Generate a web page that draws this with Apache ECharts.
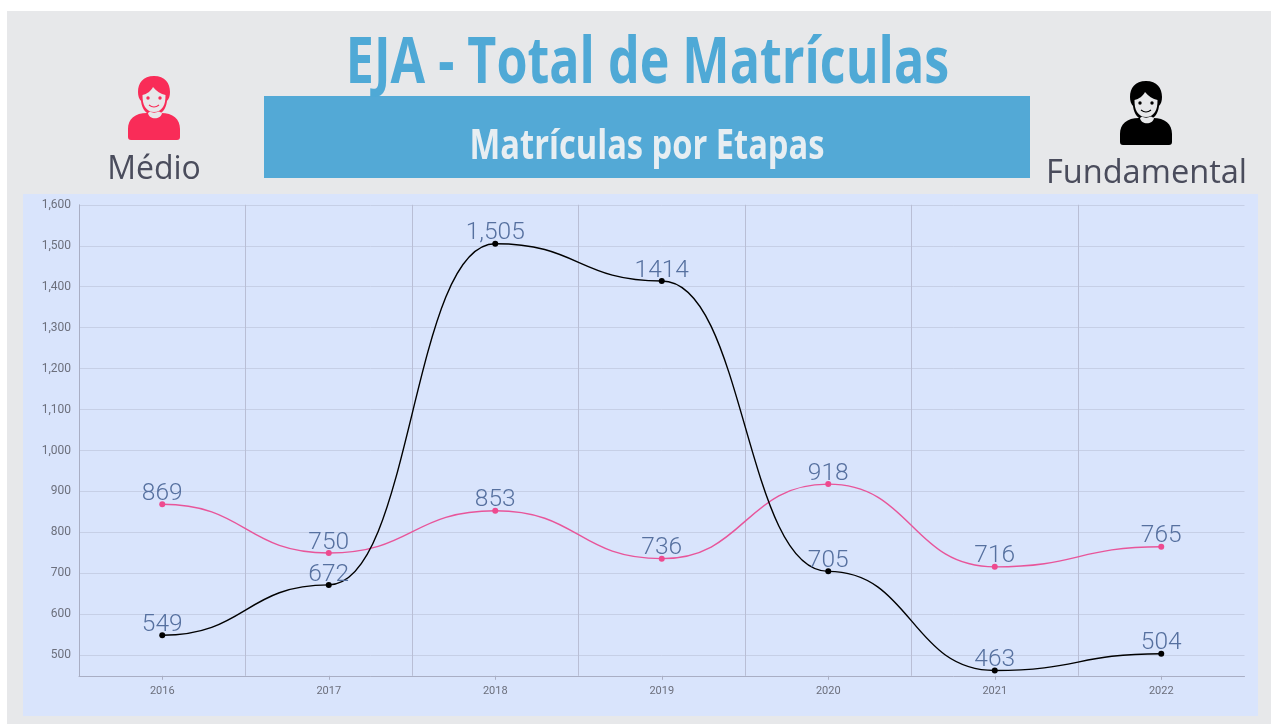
<!DOCTYPE html>
<html><head><meta charset="utf-8">
<style>html,body{margin:0;padding:0;background:#fff}#c{width:1271px;height:724px}</style>
<script src="https://cdn.jsdelivr.net/npm/echarts@6/dist/echarts.min.js"></script>
</head><body><div id="c"></div>
<script>
const years = ['2016','2017','2018','2019','2020','2021','2022'];
const medio = [869,750,853,736,918,716,765];
const fundamental = [549,672,1505,1414,705,463,504];
const medioLabels = ['869','750','853','736','918','716','765'];
const fundamentalLabels = ['549','672','1,505','1414','705','463','504'];
const yTicks = [500,600,700,800,900,1000,1100,1200,1300,1400,1500,1600];
const titleText = 'EJA - Total de Matrículas';
const subtitleText = 'Matrículas por Etapas';

const personPath = 'M26 0C15 0 10 7 10 16C10 20 11 23 13 25C13.5 30 16 35 19 37C7 37 0 43 0 53L0 61C0 63 1 64 3 64L49 64C51 64 52 63 52 61L52 53C52 43 45 37 33 37C36 35 38.5 30 39 25C41 23 42 20 42 16C42 7 37 0 26 0Z';
const facePath = 'M14.5 19C19 18 23 15 25 11C28 15 33 18 37.5 19C37.5 24 37 28 35 31C33 34 30 36 26 36C22 36 19 34 17 31C15 28 14.5 24 14.5 19Z M20 37C21 44 33 44 34 37L31 35.5C28 37 24 37 22 35.5Z';
function person(x,y,color){
  return {type:'group',x:x,y:y,children:[
    {type:'path',shape:{pathData:personPath},style:{fill:color}},
    {type:'path',shape:{pathData:facePath},style:{fill:'#e7e8ea'}},
    {type:'circle',shape:{cx:20,cy:22,r:1.7},style:{fill:color}},
    {type:'circle',shape:{cx:32,cy:22,r:1.7},style:{fill:color}},
    {type:'path',shape:{pathData:'M21 29Q26 33 31 29'},style:{fill:'none',stroke:color,lineWidth:1.2}}
  ]};
}
const lab = (arr)=>({show:true,position:'top',distance:-5,fontFamily:'Roboto',fontWeight:300,fontSize:24.5,color:'#56709f',formatter:p=>arr[p.dataIndex]});
// Curve with flat tangents at every point, including both ends
const curve = (vals,color)=>({type:'custom',coordinateSystem:'cartesian2d',silent:true,z:1,
  data:vals.map((v,i)=>[i,v]),encode:{x:0,y:1},
  renderItem:(params,api)=>{
    const i=params.dataIndex;
    if(i>=vals.length-1) return null;
    const a=api.coord([i,vals[i]]), b=api.coord([i+1,vals[i+1]]), h=(b[0]-a[0])*0.5;
    return {type:'bezierCurve',shape:{x1:a[0],y1:a[1],x2:b[0],y2:b[1],cpx1:a[0]+h,cpy1:a[1],cpx2:b[0]-h,cpy2:b[1]},
      style:{fill:null,stroke:color,lineWidth:1.4}};
  }});
const chart = echarts.init(document.getElementById('c'),null,{renderer:'canvas'});
chart.setOption({
  animation:false,
  backgroundColor:'#ffffff',
  graphic:{elements:[
    {type:'rect',z:-10,shape:{x:7,y:11,width:1264,height:713},style:{fill:'#e7e8ea'}},
    {type:'rect',z:-9,shape:{x:23,y:194,width:1235,height:522},style:{fill:'#d9e4fc'}},
    {type:'rect',z:-9,shape:{x:264,y:96,width:766,height:82},style:{fill:'#53a9d6'}},
    {type:'text',x:647.5,y:65,scaleX:0.784,style:{text:titleText,font:'bold 64px "Open Sans"',fill:'#4fa9d6',align:'center',verticalAlign:'middle'}},
    {type:'text',x:647,y:147,scaleX:0.777,style:{text:subtitleText,font:'bold 42px "Open Sans"',fill:'#e7eef2',align:'center',verticalAlign:'middle'}},
    {type:'text',x:154,y:170,style:{text:'Médio',font:'32px "Open Sans"',fill:'#4a4c5c',align:'center',verticalAlign:'middle'}},
    {type:'text',x:1146.5,y:174,style:{text:'Fundamental',font:'32.6px "Open Sans"',fill:'#4a4c5c',align:'center',verticalAlign:'middle'}}
  ]},
  grid:{left:79,right:26.5,top:204.8,bottom:48.2,containLabel:false},
  xAxis:{type:'category',data:years,boundaryGap:true,
    axisLine:{lineStyle:{color:'#a9aec4'}},
    axisTick:{show:true,length:4,alignWithLabel:true,lineStyle:{color:'#a9aec4'}},
    axisLabel:{fontFamily:'Roboto',fontSize:11,color:'#6c6f7c',margin:10},
    splitLine:{show:true,showMinLine:false,showMaxLine:false,lineStyle:{color:'#b9bed5',width:1}}
  },
  yAxis:{type:'value',min:450,max:1600,
    axisLine:{show:true,lineStyle:{color:'#a9aec4'}},
    axisTick:{show:false,customValues:yTicks},
    axisLabel:{customValues:yTicks,fontFamily:'Roboto',fontSize:12,color:'#6c6f7c',margin:8,padding:[2,0,0,0],
      formatter:v=>v.toLocaleString('en-US')},
    splitLine:{show:true,lineStyle:{color:'#c6cfe6',width:1}}
  },
  series:[
    curve(medio,'#e8559a'),
    curve(fundamental,'#000000'),
    {name:'Médio',type:'line',data:medio,z:3,symbol:'circle',symbolSize:6,
     lineStyle:{opacity:0},itemStyle:{color:'#ee4a8f'},label:lab(medioLabels)},
    {name:'Fundamental',type:'line',data:fundamental,z:3,symbol:'circle',symbolSize:6,
     lineStyle:{opacity:0},itemStyle:{color:'#000'},label:lab(fundamentalLabels)},
    {type:'custom',coordinateSystem:'none',silent:true,data:[0],z:5,
     renderItem:()=>({type:'group',children:[person(128,76,'#f92c58'),person(1120,81,'#000000')]})}
  ]
});
</script></body></html>
